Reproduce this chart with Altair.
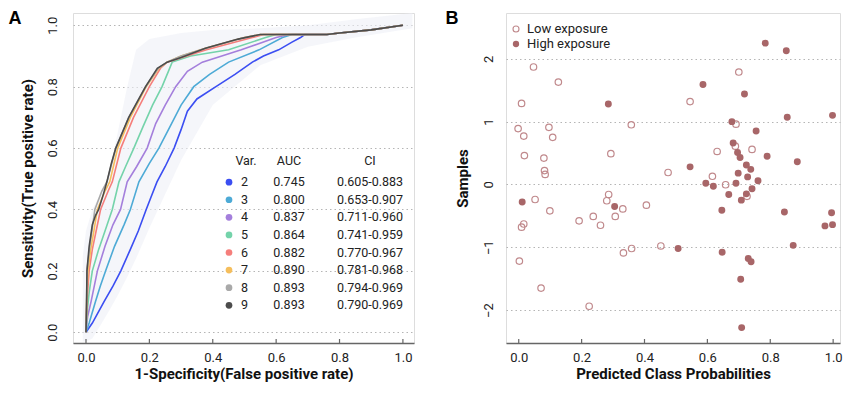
import altair as alt
import pandas as pd

FONT = "Roboto"

# ---------------- Panel A data ----------------
var_ids = ["2", "3", "4", "5", "6", "7", "8", "9"]
auc_vals = ["0.745", "0.800", "0.837", "0.864", "0.882", "0.890", "0.893", "0.893"]
ci_vals = ["0.605-0.883", "0.653-0.907", "0.711-0.960", "0.741-0.959",
           "0.770-0.967", "0.781-0.968", "0.794-0.969", "0.790-0.969"]
curve_colors = ["#3b4ef2", "#4daad6", "#a47fdc", "#74d3aa",
                "#f57e7b", "#f5be5c", "#a9a9a9", "#4c4c4c"]

fpr_2 = [0, 0.02, 0.057, 0.085, 0.11, 0.14, 0.165, 0.19, 0.205, 0.224, 0.25, 0.278, 0.30, 0.32,
         0.35, 0.41, 0.47, 0.525, 0.56, 0.608, 0.65, 0.677, 0.69, 0.76, 0.8, 0.9, 1.0]
tpr_2 = [0, 0.03, 0.1, 0.15, 0.2, 0.27, 0.33, 0.4, 0.44, 0.49, 0.54, 0.6, 0.66, 0.72,
         0.76, 0.8, 0.84, 0.88, 0.9, 0.92, 0.945, 0.96, 0.97, 0.97, 0.975, 0.985, 1.0]
fpr_3 = [0, 0.01, 0.03, 0.045, 0.062, 0.09, 0.12, 0.14, 0.167, 0.2, 0.23, 0.27, 0.30, 0.34,
         0.39, 0.45, 0.546, 0.62, 0.65, 0.76, 0.8, 0.9, 1.0]
tpr_3 = [0, 0.03, 0.1, 0.15, 0.2, 0.28, 0.35, 0.4, 0.49, 0.55, 0.6, 0.68, 0.74, 0.8,
         0.84, 0.88, 0.92, 0.96, 0.97, 0.97, 0.975, 0.985, 1.0]
fpr_4 = [0, 0.005, 0.016, 0.036, 0.06, 0.085, 0.109, 0.13, 0.16, 0.193, 0.22, 0.25, 0.283,
         0.32, 0.367, 0.49, 0.6, 0.64, 0.76, 0.8, 0.9, 1.0]
tpr_4 = [0, 0.05, 0.1, 0.2, 0.28, 0.35, 0.4, 0.49, 0.54, 0.6, 0.68, 0.74, 0.8,
         0.85, 0.88, 0.92, 0.96, 0.97, 0.97, 0.975, 0.985, 1.0]
fpr_5 = [0, 0.005, 0.01, 0.02, 0.04, 0.06, 0.083, 0.104, 0.125, 0.151, 0.18, 0.21, 0.24,
         0.26, 0.272, 0.33, 0.45, 0.567, 0.6, 0.76, 0.8, 0.9, 1.0]
tpr_5 = [0, 0.08, 0.13, 0.2, 0.27, 0.33, 0.4, 0.49, 0.54, 0.6, 0.67, 0.74, 0.8,
         0.85, 0.88, 0.9, 0.92, 0.96, 0.97, 0.97, 0.975, 0.985, 1.0]
fpr_6 = [0, 0.003, 0.01, 0.02, 0.03, 0.046, 0.07, 0.083, 0.11, 0.15, 0.2, 0.235, 0.256,
         0.38, 0.525, 0.56, 0.76, 0.8, 0.9, 1.0]
tpr_6 = [0, 0.1, 0.2, 0.27, 0.32, 0.4, 0.46, 0.49, 0.6, 0.7, 0.8, 0.86, 0.88,
         0.92, 0.96, 0.97, 0.97, 0.975, 0.985, 1.0]
fpr_7 = [0, 0.002, 0.006, 0.015, 0.025, 0.036, 0.06, 0.075, 0.1, 0.14, 0.19, 0.23, 0.256,
         0.3, 0.377, 0.5, 0.55, 0.76, 0.8, 0.9, 1.0]
tpr_7 = [0, 0.1, 0.2, 0.27, 0.33, 0.4, 0.46, 0.49, 0.6, 0.7, 0.8, 0.86, 0.88,
         0.9, 0.925, 0.96, 0.97, 0.97, 0.975, 0.985, 1.0]
fpr_8 = [0, 0.002, 0.004, 0.012, 0.02, 0.028, 0.05, 0.066, 0.094, 0.135, 0.188, 0.228, 0.256,
         0.3, 0.377, 0.5, 0.55, 0.76, 0.8, 0.9, 1.0]
tpr_8 = [0, 0.12, 0.21, 0.28, 0.34, 0.4, 0.46, 0.49, 0.6, 0.7, 0.8, 0.86, 0.88,
         0.9, 0.925, 0.96, 0.97, 0.97, 0.975, 0.985, 1.0]
fpr_9 = [0, 0.002, 0.003, 0.01, 0.02, 0.03, 0.04, 0.055, 0.066, 0.08, 0.094, 0.135, 0.188,
         0.225, 0.256, 0.3, 0.377, 0.48, 0.55, 0.76, 0.8, 0.9, 1.0]
tpr_9 = [0, 0.1, 0.2, 0.28, 0.35, 0.38, 0.4, 0.45, 0.49, 0.55, 0.6, 0.7, 0.8,
         0.86, 0.88, 0.895, 0.925, 0.955, 0.97, 0.97, 0.975, 0.985, 1.0]

curves = {"2": (fpr_2, tpr_2), "3": (fpr_3, tpr_3), "4": (fpr_4, tpr_4), "5": (fpr_5, tpr_5),
          "6": (fpr_6, tpr_6), "7": (fpr_7, tpr_7), "8": (fpr_8, tpr_8), "9": (fpr_9, tpr_9)}

# confidence band (light shading)
band_x = [-0.01, 0.0, 0.02, 0.05, 0.073, 0.1, 0.13, 0.158, 0.2, 0.3, 0.4, 0.55, 0.7, 0.85, 1.03]
band_lo = [-0.03, -0.03, -0.02, 0.03, 0.07, 0.12, 0.18, 0.24, 0.34, 0.56, 0.74, 0.87, 0.93, 0.96, 0.99]
band_hi = [0.25, 0.33, 0.40, 0.46, 0.52, 0.65, 0.8, 0.92, 0.955, 0.975, 0.985, 0.99, 1.0, 1.02, 1.04]

tick_vals = [0.0, 0.2, 0.4, 0.6, 0.8, 1.0]

# ---------------- Panel B data ----------------
low_x = [0.047, 0.126, 0.009, -0.002, 0.016, 0.018, 0.096, 0.108, 0.08, 0.082, 0.084, 0.358, 0.293,
         0.475, 0.545, 0.70, 0.691, 0.689, 0.631, 0.742, 0.616, 0.658, 0.052, 0.286, 0.28, 0.099,
         0.331, 0.406, 0.016, 0.009, 0.192, 0.237, 0.26, 0.307, 0.002, 0.333, 0.359, 0.452, 0.071,
         0.224, 0.726]
low_y = [1.87, 1.63, 1.29, 0.89, 0.77, 0.46, 0.91, 0.75, 0.42, 0.22, 0.16, 0.95, 0.49,
         0.19, 1.32, 1.79, 0.96, 0.61, 0.525, 0.557, 0.13, -0.005, -0.24, -0.16, -0.26, -0.42,
         -0.39, -0.33, -0.63, -0.68, -0.58, -0.51, -0.65, -0.51, -1.22, -1.09, -1.02, -0.98, -1.65,
         -1.94, -0.19]
high_x = [0.784, 0.851, 0.586, 0.718, 0.285, 0.854, 0.998, 0.678, 0.755, 0.682, 0.696, 0.704, 0.79,
          0.886, 0.724, 0.738, 0.545, 0.698, 0.728, 0.761, 0.595, 0.691, 0.619, 0.011, 0.305, 0.507,
          0.668, 0.708, 0.724, 0.742, 0.646, 0.845, 0.995, 0.974, 0.998, 0.873, 0.647, 0.73, 0.739,
          0.706, 0.709]
high_y = [2.25, 2.13, 1.59, 1.44, 1.28, 1.07, 1.10, 1.0, 0.85, 0.66, 0.51, 0.43, 0.45,
          0.36, 0.31, 0.24, 0.28, 0.18, 0.12, 0.06, 0.02, 0.02, -0.03, -0.28, -0.35, -1.02,
          -0.16, -0.25, -0.15, -0.07, -0.41, -0.44, -0.45, -0.66, -0.64, -0.97, -1.08, -1.18, -1.23,
          -1.51, -2.28]
group_labels = ["Low exposure", "High exposure"]
b_ticks = [-2, -1, 0, 1, 2]

PT_COLOR = "#a86668"
OPEN_COLOR = "#c0898c"

# ---------------- Panel A chart ----------------
WA, HA = 341, 330
xA = alt.Scale(domain=[-0.041, 1.035], nice=False, zero=False)
yA = alt.Scale(domain=[-0.035, 1.04], nice=False, zero=False)

grid_style = dict(gridColor="#b5b5b5", gridDash=[1.5, 3], gridWidth=1)
xaxis_style = dict(grid=False, domainColor="#666", domainWidth=1.5, ticks=False,
                   labelFont=FONT, labelFontSize=13, labelColor="#222", labelPadding=8,
                   titleFont=FONT, titleFontSize=15, titleFontWeight="bold", titleColor="#111",
                   titlePadding=2)
yaxis_style = dict(grid=True, domain=False, ticks=False, labelAngle=270, labelAlign="center",
                   labelBaseline="bottom", labelFont=FONT, labelFontSize=13, labelColor="#222",
                   titleFont=FONT, titleFontSize=15, titleFontWeight="bold", titleColor="#111",
                   **grid_style)

band_df = pd.DataFrame({"x": band_x, "lo": band_lo, "hi": band_hi})
band = alt.Chart(band_df).mark_area(color="#eef0f7", opacity=0.6).encode(
    x=alt.X("x:Q", scale=xA, axis=alt.Axis(
        values=tick_vals, format=".1f", title="1-Specificity(False positive rate)", **xaxis_style)),
    y=alt.Y("lo:Q", scale=yA, axis=alt.Axis(
        values=tick_vals, format=".1f", title="Sensitivity(True positive rate)",
        labelPadding=14, titlePadding=11, **yaxis_style)),
    y2="hi:Q",
)

tickA = alt.Chart(pd.DataFrame({"t": tick_vals})).mark_rule(color="#666", strokeWidth=1.2).encode(
    x=alt.X("t:Q", scale=xA), y=alt.value(HA - 4), y2=alt.value(HA))

line_layers = []
for vid, col in zip(var_ids, curve_colors):
    fx, ty = curves[vid]
    df = pd.DataFrame({"fpr": fx, "tpr": ty, "order": list(range(len(fx)))})
    line_layers.append(
        alt.Chart(df).mark_line(color=col, strokeWidth=1.6).encode(
            x=alt.X("fpr:Q", scale=xA), y=alt.Y("tpr:Q", scale=yA), order="order:Q"))

leg_df = pd.DataFrame({"i": list(range(len(var_ids))), "var": var_ids, "auc": auc_vals,
                       "ci": ci_vals, "col": curve_colors})
leg_base = alt.Chart(leg_df).transform_calculate(ly="0.489 - datum.i * 0.0573")
leg_dots = leg_base.mark_circle(size=45, opacity=1).encode(
    x=alt.value(156), y=alt.Y("ly:Q", scale=yA),
    color=alt.Color("col:N", scale=None))
txt = dict(font=FONT, fontSize=12.5, color="#222", baseline="middle")
leg_var = leg_base.mark_text(align="left", **txt).encode(
    x=alt.value(168), y=alt.Y("ly:Q", scale=yA), text="var:N")
leg_auc = leg_base.mark_text(align="center", **txt).encode(
    x=alt.value(216), y=alt.Y("ly:Q", scale=yA), text="auc:N")
leg_ci = leg_base.mark_text(align="center", **txt).encode(
    x=alt.value(297), y=alt.Y("ly:Q", scale=yA), text="ci:N")
hdr_df = pd.DataFrame({"h": ["Var.", "AUC", "CI"], "px": [173, 216, 297]})
leg_hdr = alt.Chart(hdr_df).mark_text(align="center", **txt).encode(
    x=alt.X("px:Q", scale=None), y=alt.value(148), text="h:N")

labA = alt.Chart(pd.DataFrame({"t": ["A"]})).mark_text(
    font="Liberation Sans", fontSize=18, fontWeight="bold", color="#000", align="center",
    baseline="alphabetic").encode(x=alt.value(-58), y=alt.value(11), text="t:N")

panelA = alt.layer(band, tickA, *line_layers, leg_dots, leg_var, leg_auc, leg_ci, leg_hdr, labA
                   ).properties(width=WA, height=HA)

# ---------------- Panel B chart ----------------
WB, HB = 334, 330
xB = alt.Scale(domain=[-0.0405, 1.0218], nice=False, zero=False)
yB = alt.Scale(domain=[-2.525, 2.73], nice=False, zero=False)

low_df = pd.DataFrame({"p": low_x, "s": low_y})
high_df = pd.DataFrame({"p": high_x, "s": high_y})

low_pts = alt.Chart(low_df).mark_point(shape="circle", filled=False, size=42, strokeWidth=1.2,
                                       color=OPEN_COLOR, opacity=1).encode(
    x=alt.X("p:Q", scale=xB, axis=alt.Axis(
        values=tick_vals, format=".1f", title="Predicted Class Probabilities", **xaxis_style)),
    y=alt.Y("s:Q", scale=yB, axis=alt.Axis(
        values=b_ticks, format="d", title="Samples",
        labelPadding=11, titlePadding=12, **yaxis_style)),
)
high_pts = alt.Chart(high_df).mark_circle(size=48, color=PT_COLOR, opacity=1).encode(
    x=alt.X("p:Q", scale=xB), y=alt.Y("s:Q", scale=yB))

tickB = alt.Chart(pd.DataFrame({"t": tick_vals})).mark_rule(color="#666", strokeWidth=1.2).encode(
    x=alt.X("t:Q", scale=xB), y=alt.value(HB - 4), y2=alt.value(HB))

legB_df = pd.DataFrame({"g": group_labels, "py": [16, 31]})
legB_open = alt.Chart(legB_df.iloc[[0]]).mark_point(
    shape="circle", filled=False, size=36, strokeWidth=1.1, color=OPEN_COLOR, opacity=1).encode(
    x=alt.value(10), y=alt.Y("py:Q", scale=None))
legB_fill = alt.Chart(legB_df.iloc[[1]]).mark_circle(size=40, color=PT_COLOR, opacity=1).encode(
    x=alt.value(10), y=alt.Y("py:Q", scale=None))
legB_txt = alt.Chart(legB_df).mark_text(align="left", baseline="middle", font=FONT,
                                        fontSize=13, color="#222").encode(
    x=alt.value(21), y=alt.Y("py:Q", scale=None), text="g:N")

labB = alt.Chart(pd.DataFrame({"t": ["B"]})).mark_text(
    font="Liberation Sans", fontSize=18, fontWeight="bold", color="#000", align="center",
    baseline="alphabetic").encode(x=alt.value(-54), y=alt.value(11), text="t:N")

panelB = alt.layer(tickB, low_pts, high_pts, legB_open, legB_fill, legB_txt, labB
                   ).properties(width=WB, height=HB)

chart = alt.hconcat(panelA, panelB, spacing=30).properties(
    padding={"left": 0, "top": 1, "right": 0, "bottom": 0}
).configure_view(stroke=None).configure(background="white")

chart.save("out.html", embed_options={"renderer": "svg", "actions": False})
